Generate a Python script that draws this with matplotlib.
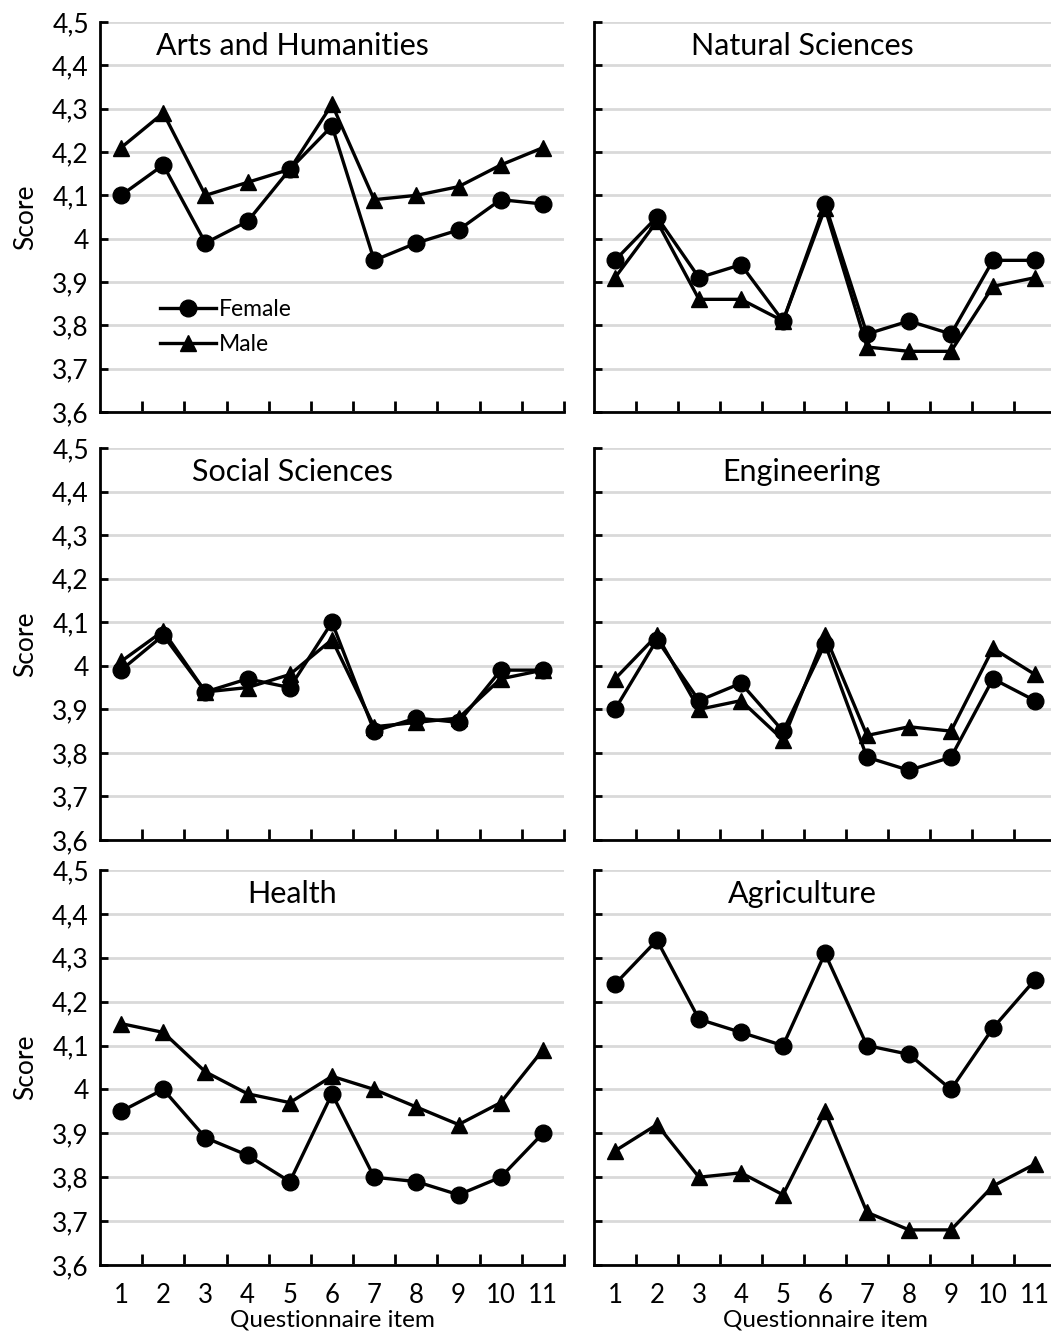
import matplotlib
matplotlib.use("Agg")
import matplotlib.pyplot as plt
from matplotlib.ticker import FuncFormatter, MultipleLocator
from matplotlib.transforms import blended_transform_factory
import numpy as np

plt.rcParams['font.family'] = ['Lato', 'DejaVu Sans']

items = list(range(1, 12))

# mean scores per field, female / male
arts_f = [4.10, 4.17, 3.99, 4.04, 4.16, 4.26, 3.95, 3.99, 4.02, 4.09, 4.08]
arts_m = [4.21, 4.29, 4.10, 4.13, 4.16, 4.31, 4.09, 4.10, 4.12, 4.17, 4.21]
nat_f = [3.95, 4.05, 3.91, 3.94, 3.81, 4.08, 3.78, 3.81, 3.78, 3.95, 3.95]
nat_m = [3.91, 4.04, 3.86, 3.86, 3.81, 4.07, 3.75, 3.74, 3.74, 3.89, 3.91]
soc_f = [3.99, 4.07, 3.94, 3.97, 3.95, 4.10, 3.85, 3.88, 3.87, 3.99, 3.99]
soc_m = [4.01, 4.08, 3.94, 3.95, 3.98, 4.06, 3.86, 3.87, 3.88, 3.97, 3.99]
eng_f = [3.90, 4.06, 3.92, 3.96, 3.85, 4.05, 3.79, 3.76, 3.79, 3.97, 3.92]
eng_m = [3.97, 4.07, 3.90, 3.92, 3.83, 4.07, 3.84, 3.86, 3.85, 4.04, 3.98]
hea_f = [3.95, 4.00, 3.89, 3.85, 3.79, 3.99, 3.80, 3.79, 3.76, 3.80, 3.90]
hea_m = [4.15, 4.13, 4.04, 3.99, 3.97, 4.03, 4.00, 3.96, 3.92, 3.97, 4.09]
agr_f = [4.24, 4.34, 4.16, 4.13, 4.10, 4.31, 4.10, 4.08, 4.00, 4.14, 4.25]
agr_m = [3.86, 3.92, 3.80, 3.81, 3.76, 3.95, 3.72, 3.68, 3.68, 3.78, 3.83]

titles = ["Arts and Humanities", "Natural Sciences", "Social Sciences",
          "Engineering", "Health", "Agriculture"]
female = [arts_f, nat_f, soc_f, eng_f, hea_f, agr_f]
male = [arts_m, nat_m, soc_m, eng_m, hea_m, agr_m]

W, H = 1051, 1335
fig = plt.figure(figsize=(W / 100, H / 100), dpi=100)

# panel boxes in pixels: (left, right), (top, bottom)
cols = [(100, 564), (594, 1056)]
rows = [(22, 412), (448, 840), (870, 1265)]
title_x = [0.415, 0.45]


def comma_fmt(v, pos):
    if abs(v - 4.0) < 1e-9:
        return "4"
    return ("%.1f" % v).replace(".", ",")


for k in range(6):
    r, c = divmod(k, 2)
    (x0, x1), (y0, y1) = cols[c], rows[r]
    ax = fig.add_axes([x0 / W, 1 - y1 / H, (x1 - x0) / W, (y1 - y0) / H])

    ax.plot(items, male[k], color="black", lw=2.4, marker="^", ms=12,
            label="Male", zorder=3)
    ax.plot(items, female[k], color="black", lw=2.4, marker="o", ms=12,
            label="Female", zorder=4)

    ax.set_xlim(0.5, 11.5)
    ax.set_ylim(3.6, 4.5)
    ax.yaxis.set_major_locator(MultipleLocator(0.1))
    ax.yaxis.set_major_formatter(FuncFormatter(comma_fmt))
    ax.grid(axis="y", color="#d9d9d9", lw=2)
    ax.set_axisbelow(True)

    for s in ["top", "right"]:
        ax.spines[s].set_visible(False)
    for s in ["left", "bottom"]:
        ax.spines[s].set_linewidth(2)

    ax.set_xticks(items)
    ax.set_xticks(np.arange(1.5, 12, 1.0), minor=True)
    ax.tick_params(axis="x", which="major", length=0, pad=13, labelsize=18.5)
    ax.tick_params(axis="x", which="minor", direction="in", length=8, width=2)
    ax.tick_params(axis="y", direction="in", length=6, width=2, labelsize=19, pad=8)

    if r < 2:
        ax.tick_params(axis="x", labelbottom=False)
    else:
        ax.set_xlabel("Questionnaire item", fontsize=17.5, labelpad=1)
    if c == 1:
        ax.tick_params(axis="y", labelleft=False)
    else:
        ax.set_ylabel("Score", fontsize=19, labelpad=10)

    tr = blended_transform_factory(ax.transAxes, ax.transData)
    ax.text(title_x[c], 4.445, titles[k], transform=tr,
            ha="center", va="center", fontsize=22)

    if k == 0:
        h, l = ax.get_legend_handles_labels()
        ax.legend(h[::-1], l[::-1], loc="upper left", bbox_to_anchor=(0.13, 0.29),
                  frameon=False, fontsize=16.5, handlelength=2.45, handletextpad=0.1,
                  labelspacing=0.6, borderaxespad=0, borderpad=0)

fig.savefig("out.png", dpi=100)
